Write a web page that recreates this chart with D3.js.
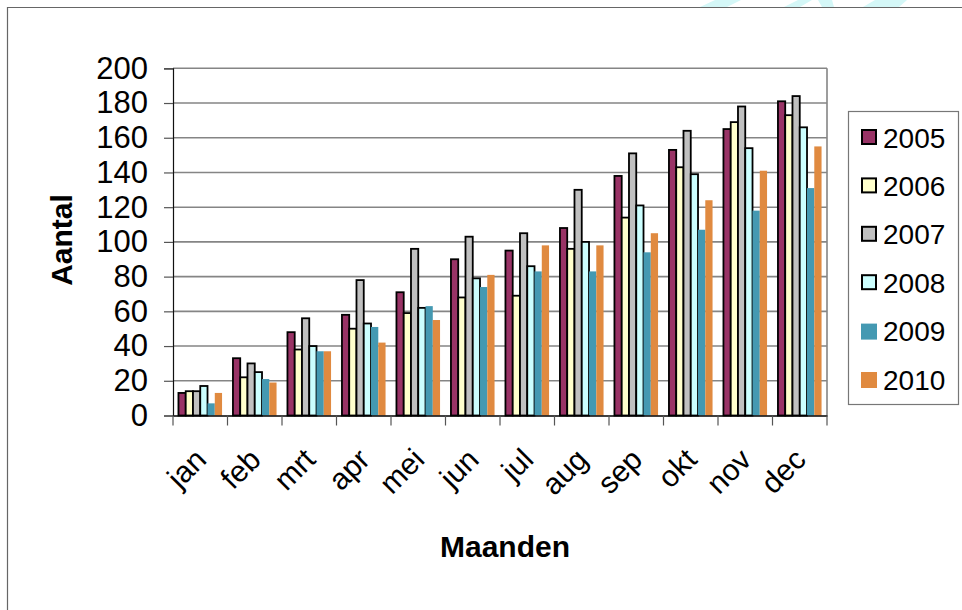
<!DOCTYPE html>
<html>
<head>
<meta charset="utf-8">
<script src="https://cdn.jsdelivr.net/npm/d3@7"></script>
<style>
  html, body { margin: 0; padding: 0; background: #fff; }
  svg { display: block; font-family: "Liberation Sans", Arial, sans-serif; }
</style>
</head>
<body>
<svg id="chart" width="962" height="610"></svg>
<script>
const months = ["jan","feb","mrt","apr","mei","jun","jul","aug","sep","okt","nov","dec"];
const years = ["2005","2006","2007","2008","2009","2010"];
const v2005 = [13, 33, 48, 58, 71, 90, 95, 108, 138, 153, 165, 181];
const v2006 = [14, 22, 38, 50, 59, 68, 69, 96, 114, 143, 169, 173];
const v2007 = [14, 30, 56, 78, 96, 103, 105, 130, 151, 164, 178, 184];
const v2008 = [17, 25, 40, 53, 62, 79, 86, 100, 121, 139, 154, 166];
const v2009 = [7, 21, 37, 51, 63, 74, 83, 83, 94, 107, 118, 131];
const v2010 = [13, 19, 37, 42, 55, 81, 98, 98, 105, 124, 141, 155];
const yTicks = [0, 20, 40, 60, 80, 100, 120, 140, 160, 180, 200];
const yTitle = "Aantal";
const xTitle = "Maanden";

const seriesValues = [v2005, v2006, v2007, v2008, v2009, v2010];
const colors = ["#993366", "#FFFFCC", "#C0C0C0", "#CCFFFF", "#4499B2", "#E08A40"];
const outlined = [true, true, true, true, false, false];

const svg = d3.select("#chart");

// faint decorative watermark at top right
const wm = svg.append("g").attr("fill", "#d4f7f7");
[[[715,0],[741,0],[727,7],[700,7]],
 [[798,0],[812,0],[800,7],[784,7]],
 [[818,0],[832,0],[834,7],[822,7]],
 [[875,0],[907,0],[899,7],[863,7]]].forEach(p => wm.append("polygon").attr("points", p.map(d => d.join(",")).join(" ")));

// outer chart border
svg.append("path").attr("d", "M7.5,610 V7.5 H962").attr("fill", "none").attr("stroke", "#666").attr("stroke-width", 1.2);

const L = 173, R = 827, T = 68.3, B = 415.5;
const x0 = d3.scaleBand().domain(months).range([L, R]).paddingInner(0).paddingOuter(0);
const bw = x0.bandwidth();
const gap = bw * 1.5 / 7.5;
const x1 = d3.scaleBand().domain(years).range([gap / 2, bw - gap / 2]);
const y = d3.scaleLinear().domain([0, 200]).range([B, T]);

// gridlines
svg.append("g").selectAll("line").data(yTicks.filter(t => t > 0)).join("line")
  .attr("x1", L).attr("x2", R).attr("y1", d => y(d)).attr("y2", d => y(d))
  .attr("stroke", "#858585").attr("stroke-width", 1.6);
// plot right border
svg.append("line").attr("x1", R).attr("x2", R).attr("y1", T).attr("y2", B)
  .attr("stroke", "#858585").attr("stroke-width", 1.6);

// bars
const gBars = svg.append("g");
years.forEach((yr, si) => {
  gBars.append("g").selectAll("rect").data(seriesValues[si]).join("rect")
    .attr("x", (d, i) => x0(months[i]) + x1(yr))
    .attr("y", d => y(d))
    .attr("width", x1.bandwidth())
    .attr("height", d => B - y(d))
    .attr("fill", colors[si])
    .attr("stroke", outlined[si] ? "#000" : "none")
    .attr("stroke-width", outlined[si] ? 1.8 : 0);
});

// y axis
const yAxis = d3.axisLeft(y).tickValues(yTicks).tickSize(9).tickPadding(16);
const gy = svg.append("g").attr("transform", `translate(${L},0)`).call(yAxis);
gy.select(".domain").attr("stroke", "#111").attr("stroke-width", 1.2);
gy.selectAll(".tick line").attr("stroke", "#555").attr("stroke-width", 1.2);
gy.selectAll("text").attr("font-size", 31).attr("fill", "#000")
  .attr("font-family", "Liberation Sans, Arial, sans-serif");

// x axis
const xAxis = d3.axisBottom(x0).tickSize(0).tickFormat("");
const gx = svg.append("g").attr("transform", `translate(0,${B})`).call(xAxis);
gx.select(".domain").attr("stroke", "#000").attr("stroke-width", 1.6);
// category separators (ticks between categories)
gx.append("g").selectAll("line").data(months.concat(["__end"])).join("line")
  .attr("x1", (d, i) => L + i * bw).attr("x2", (d, i) => L + i * bw)
  .attr("y1", 0).attr("y2", 10).attr("stroke", "#555").attr("stroke-width", 1.2);
// rotated labels
gx.append("g").selectAll("text").data(months).join("text")
  .attr("transform", d => `translate(${x0(d) + bw / 2 - 7},${31}) rotate(-45)`)
  .attr("text-anchor", "end")
  .attr("dy", "0.7em")
  .attr("font-size", 30)
  .attr("fill", "#000")
  .text(d => d);

// axis titles
svg.append("text").attr("transform", "translate(72,240) rotate(-90)")
  .attr("text-anchor", "middle").attr("font-size", 30).attr("font-weight", "bold")
  .text(yTitle);
svg.append("text").attr("x", 505).attr("y", 557)
  .attr("text-anchor", "middle").attr("font-size", 30).attr("font-weight", "bold")
  .text(xTitle);

// legend
const lg = svg.append("g");
lg.append("rect").attr("x", 848.5).attr("y", 111.5).attr("width", 110).attr("height", 293)
  .attr("fill", "#fff").attr("stroke", "#777").attr("stroke-width", 1.2);
years.forEach((yr, si) => {
  const cy = 137.5 + si * 48.4;
  lg.append("rect").attr("x", outlined[si] ? 862 : 861).attr("y", cy - 7.5)
    .attr("width", outlined[si] ? 14 : 16).attr("height", outlined[si] ? 14 : 16)
    .attr("fill", colors[si])
    .attr("stroke", outlined[si] ? "#000" : "none").attr("stroke-width", outlined[si] ? 2 : 0);
  lg.append("text").attr("x", 883).attr("y", cy).attr("dy", "0.36em")
    .attr("font-size", 28).attr("fill", "#000").text(yr);
});
</script>
</body>
</html>
